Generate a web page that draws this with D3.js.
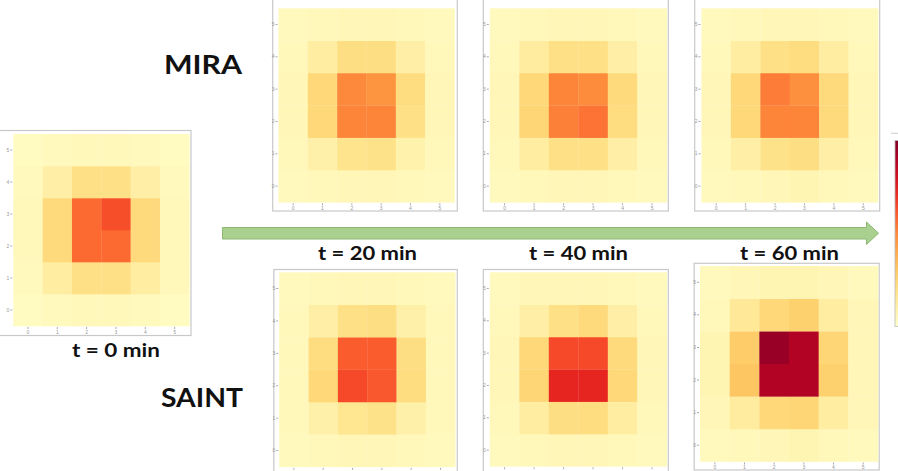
<!DOCTYPE html>
<html>
<head>
<meta charset="utf-8">
<script src="https://cdn.jsdelivr.net/npm/d3@7"></script>
<style>
  body { margin: 0; background: #fff; }
  .tick text { font-family: "Liberation Sans", sans-serif; fill: #999; }
  .tick line { stroke: #aaa; }
</style>
</head>
<body>
<div id="chart"></div>
<script>
// dimensions
const w = 898;
const h = 471;

// grid categories (x and y indices)
const xCats = [0, 1, 2, 3, 4, 5];
const yCats = [0, 1, 2, 3, 4, 5];
const tickLabels = ["0", "1", "2", "3", "4", "5"];

// values, one row per y (y = 0 first), normalised concentration
const gridT0 = [
  [0.03, 0.04, 0.05, 0.05, 0.04, 0.03],
  [0.04, 0.12, 0.20, 0.20, 0.12, 0.05],
  [0.05, 0.23, 0.57, 0.57, 0.23, 0.05],
  [0.05, 0.23, 0.57, 0.63, 0.23, 0.05],
  [0.04, 0.11, 0.20, 0.20, 0.11, 0.04],
  [0.03, 0.04, 0.05, 0.05, 0.04, 0.03]
];
const miraT20 = [
  [0.04, 0.05, 0.06, 0.06, 0.05, 0.04],
  [0.05, 0.10, 0.18, 0.19, 0.09, 0.05],
  [0.06, 0.24, 0.51, 0.51, 0.20, 0.06],
  [0.06, 0.24, 0.50, 0.47, 0.22, 0.06],
  [0.05, 0.12, 0.21, 0.21, 0.11, 0.05],
  [0.04, 0.05, 0.06, 0.06, 0.05, 0.04]
];
const miraT40 = [
  [0.04, 0.05, 0.06, 0.06, 0.05, 0.04],
  [0.05, 0.12, 0.20, 0.20, 0.11, 0.05],
  [0.06, 0.25, 0.52, 0.55, 0.22, 0.06],
  [0.06, 0.24, 0.51, 0.49, 0.23, 0.06],
  [0.05, 0.13, 0.20, 0.20, 0.11, 0.05],
  [0.04, 0.05, 0.06, 0.06, 0.05, 0.04]
];
const miraT60 = [
  [0.04, 0.05, 0.06, 0.07, 0.05, 0.04],
  [0.05, 0.11, 0.19, 0.21, 0.11, 0.05],
  [0.06, 0.24, 0.51, 0.51, 0.23, 0.06],
  [0.06, 0.24, 0.53, 0.48, 0.23, 0.06],
  [0.05, 0.12, 0.20, 0.22, 0.12, 0.05],
  [0.04, 0.05, 0.06, 0.06, 0.05, 0.04]
];
const saintT20 = [
  [0.04, 0.05, 0.06, 0.06, 0.05, 0.04],
  [0.05, 0.10, 0.17, 0.19, 0.10, 0.05],
  [0.05, 0.24, 0.64, 0.61, 0.22, 0.05],
  [0.05, 0.22, 0.60, 0.60, 0.21, 0.05],
  [0.05, 0.11, 0.20, 0.21, 0.10, 0.05],
  [0.04, 0.05, 0.06, 0.06, 0.05, 0.04]
];
const saintT40 = [
  [0.04, 0.05, 0.06, 0.06, 0.05, 0.04],
  [0.05, 0.12, 0.21, 0.22, 0.12, 0.05],
  [0.06, 0.25, 0.73, 0.73, 0.24, 0.06],
  [0.06, 0.24, 0.64, 0.64, 0.23, 0.06],
  [0.05, 0.11, 0.20, 0.23, 0.11, 0.05],
  [0.04, 0.06, 0.06, 0.06, 0.05, 0.04]
];
const saintT60 = [
  [0.04, 0.05, 0.06, 0.07, 0.05, 0.04],
  [0.06, 0.13, 0.24, 0.25, 0.12, 0.06],
  [0.07, 0.31, 0.89, 0.89, 0.27, 0.06],
  [0.07, 0.29, 0.95, 0.89, 0.25, 0.06],
  [0.05, 0.15, 0.24, 0.27, 0.12, 0.06],
  [0.04, 0.06, 0.07, 0.07, 0.06, 0.04]
];

// labels
const methods = ["MIRA", "SAINT"];
const timeLabels = ["t = 0 min", "t = 20 min", "t = 40 min", "t = 60 min"];

// panel layout: box = frame, plot = heatmap area, xLabels = show x tick text
const panels = [
  { grid: gridT0,   box: [-2, 130.5, 193, 205],   plot: [13.3, 134, 176, 192], xLabels: true },
  { grid: miraT20,  box: [272.7, -5, 184.6, 216], plot: [278.5, 8.3, 176, 194], xLabels: true },
  { grid: miraT40,  box: [483.3, -5, 185, 216],   plot: [489.8, 8.3, 177, 194], xLabels: true },
  { grid: miraT60,  box: [694.7, -5, 185, 216],   plot: [701.5, 8.3, 176.5, 194], xLabels: true },
  { grid: saintT20, box: [273.8, 269.5, 183.5, 210], plot: [279.2, 272.3, 176, 194.5], xLabels: false },
  { grid: saintT40, box: [483.3, 269.5, 185, 210],   plot: [489.8, 272.3, 177, 194], xLabels: false },
  { grid: saintT60, box: [694.2, 263.3, 185, 206.7], plot: [700, 266, 178, 195.5], xLabels: true }
];

const color = d3.scaleSequential(d3.interpolateYlOrRd).domain([0, 1]);

// svg
const svg = d3.select("#chart")
  .append("svg")
  .attr("width", w)
  .attr("height", h)
  .style("display", "block");

const defs = svg.append("defs");

// heatmaps
panels.forEach(function(p) {
  const g = svg.append("g");

  g.append("rect")
    .attr("x", p.box[0])
    .attr("y", p.box[1])
    .attr("width", p.box[2])
    .attr("height", p.box[3])
    .attr("fill", "#fff")
    .attr("stroke", "#c8c8c8")
    .attr("stroke-width", 1.2);

  const x = d3.scaleBand().domain(xCats).range([p.plot[0], p.plot[0] + p.plot[2]]);
  const y = d3.scaleBand().domain(yCats).range([p.plot[1] + p.plot[3], p.plot[1]]);

  const cells = [];
  p.grid.forEach(function(row, yi) {
    row.forEach(function(v, xi) {
      cells.push({ x: xCats[xi], y: yCats[yi], v: v });
    });
  });

  g.selectAll("rect.cell")
    .data(cells)
    .enter()
    .append("rect")
    .attr("class", "cell")
    .attr("x", d => x(d.x))
    .attr("y", d => y(d.y))
    .attr("width", x.bandwidth() + 0.3)
    .attr("height", y.bandwidth() + 0.3)
    .attr("fill", d => color(d.v));

  // axes
  const axeX = d3.axisBottom(x).tickSize(2).tickPadding(1)
    .tickFormat((d, k) => p.xLabels ? tickLabels[k] : "");
  const axeY = d3.axisLeft(y).tickSize(2).tickPadding(1)
    .tickFormat((d, k) => tickLabels[k]);

  g.append("g")
    .attr("transform", "translate(0," + (p.plot[1] + p.plot[3] + 1) + ")")
    .call(axeX)
    .call(a => a.select(".domain").remove())
    .selectAll("text").attr("font-size", 5);

  g.append("g")
    .attr("transform", "translate(" + (p.plot[0] - 1) + ",0)")
    .call(axeY)
    .call(a => a.select(".domain").remove())
    .selectAll("text").attr("font-size", 5);
});

// arrow
svg.append("path")
  .attr("d", "M222.5,227.5 L866.5,227.5 L866.5,222 L878.5,233.2 L866.5,244.5 L866.5,239 L222.5,239 Z")
  .attr("fill", "#a9d08e")
  .attr("stroke", "#8db874")
  .attr("stroke-width", 1);

// method labels
const methodPos = [[164, 74, 78], [161, 407, 82]];
svg.selectAll("text.method")
  .data(methods)
  .enter()
  .append("text")
  .attr("class", "method")
  .attr("x", (d, i) => methodPos[i][0])
  .attr("y", (d, i) => methodPos[i][1])
  .attr("textLength", (d, i) => methodPos[i][2])
  .attr("lengthAdjust", "spacingAndGlyphs")
  .attr("font-family", "Lato, 'Open Sans', sans-serif")
  .attr("font-weight", 700)
  .attr("font-size", "26px")
  .attr("fill", "#111")
  .text(d => d);

// time labels
const timePos = [[72, 357, 88], [318, 260, 99], [529, 260, 99], [740, 260, 99]];
svg.selectAll("text.time")
  .data(timeLabels)
  .enter()
  .append("text")
  .attr("class", "time")
  .attr("x", (d, i) => timePos[i][0])
  .attr("y", (d, i) => timePos[i][1])
  .attr("textLength", (d, i) => timePos[i][2])
  .attr("lengthAdjust", "spacingAndGlyphs")
  .attr("font-family", "Lato, 'Open Sans', sans-serif")
  .attr("font-weight", 700)
  .attr("font-size", "18px")
  .attr("fill", "#111")
  .text(d => d);

// colorbar
const grad = defs.append("linearGradient")
  .attr("id", "cbar")
  .attr("x1", 0).attr("y1", 1).attr("x2", 0).attr("y2", 0);
d3.range(0, 1.0001, 0.1).forEach(function(t) {
  grad.append("stop")
    .attr("offset", t)
    .attr("stop-color", color(t));
});

svg.append("line")
  .attr("x1", 891).attr("x2", 898)
  .attr("y1", 133.3).attr("y2", 133.3)
  .attr("stroke", "#ccc");

svg.append("rect")
  .attr("x", 895)
  .attr("y", 140.5)
  .attr("width", 12)
  .attr("height", 186)
  .attr("fill", "url(#cbar)")
  .attr("stroke", "#bbb")
  .attr("stroke-width", 0.8);
</script>
</body>
</html>
